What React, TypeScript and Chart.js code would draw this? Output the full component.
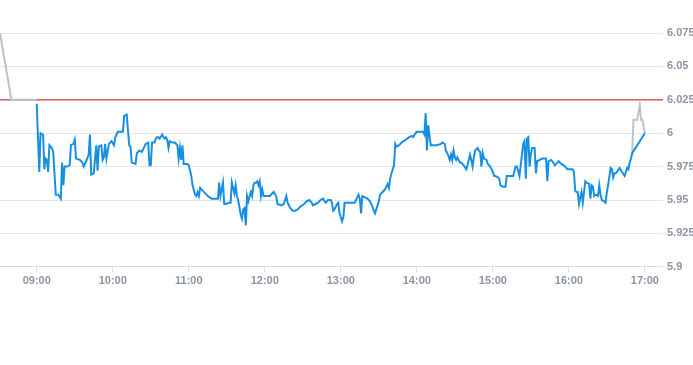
import React, { useEffect, useRef } from "react";
import { Chart, registerables } from "chart.js";

Chart.register(...registerables);

// Minutes since midnight for regular session (blue) line
const blueMinutes = [
  540, 542, 543, 545, 546, 547, 548, 549, 550, 552, 553, 555, 557, 559, 560, 561, 562, 564, 566, 567,
  569, 570, 571, 574, 576, 577, 579, 581, 582, 583, 585, 587, 588, 589, 591, 592, 593, 594, 595, 597,
  599, 601, 602, 604, 608, 609, 611, 613, 614, 615, 618, 619, 621, 623, 625, 626, 628, 629, 630, 631,
  633, 634, 635, 636, 637, 639, 640, 641, 642, 643, 644, 645, 647, 649, 651, 652, 653, 654, 655, 656,
  657, 659, 660, 662, 663, 665, 666, 667, 668, 669, 671, 673, 675, 678, 680, 683, 684, 685, 687, 688,
  689, 692, 693, 694, 696, 697, 698, 699, 701, 702, 703, 704, 705, 706, 707, 709, 710, 711, 712, 713,
  714, 715, 716, 717, 718, 719, 722, 724, 727, 729, 730, 733, 735, 737, 738, 740, 742, 744, 746, 748,
  751, 753, 755, 757, 758, 760, 762, 764, 766, 768, 770, 772, 773, 774, 775, 777, 778, 779, 781, 782,
  783, 786, 789, 791, 793, 794, 795, 796, 797, 799, 801, 803, 805, 806, 807, 808, 810, 811, 813, 815,
  816, 817, 818, 819, 820, 822, 823, 824, 826, 828, 831, 834, 836, 837, 839, 840, 842, 845, 846, 847,
  848, 849, 851, 854, 856, 859, 860, 862, 863, 865, 866, 867, 868, 869, 870, 871, 872, 874, 875, 877,
  879, 880, 881, 882, 883, 884, 885, 886, 888, 889, 890, 891, 892, 893, 895, 896, 898, 900, 901, 902,
  904, 905, 906, 908, 910, 911, 914, 916, 918, 919, 921, 922, 923, 924, 925, 926, 927, 928, 929, 930,
  931, 933, 934, 935, 937, 939, 942, 943, 944, 946, 947, 949, 950, 952, 953, 954, 956, 957, 959, 961,
  963, 964, 965, 966, 967, 968, 969, 970, 971, 972, 973, 974, 976, 977, 978, 979, 980, 981, 983, 984,
  985, 986, 988, 989, 990, 991, 993, 994, 995, 996, 997, 998, 1000, 1002, 1004, 1005, 1006, 1007, 1008, 1009,
  1010, 1020,
];

const blueValues = [
  6.022, 5.971, 6.0, 5.999, 5.973, 5.981, 5.98, 5.971, 5.991, 5.989, 5.986, 5.954, 5.954, 5.951, 5.978, 5.961, 5.975, 5.975, 5.976, 5.991,
  5.992, 5.995, 5.981, 5.98, 5.978, 5.975, 5.979, 5.984, 5.999, 5.969, 5.97, 5.991, 5.972, 5.99, 5.991, 5.98, 5.982, 5.992, 5.981, 5.992,
  5.994, 5.991, 5.997, 6.001, 6.001, 6.013, 6.014, 5.991, 5.99, 5.978, 5.977, 5.985, 5.987, 5.986, 5.99, 5.992, 5.993, 5.976, 5.976, 5.993,
  5.993, 5.996, 5.997, 5.997, 5.996, 5.999, 5.997, 5.996, 5.997, 5.995, 5.989, 5.994, 5.993, 5.993, 5.991, 5.981, 5.989, 5.98, 5.991, 5.977,
  5.977, 5.977, 5.976, 5.968, 5.961, 5.954, 5.953, 5.956, 5.953, 5.959, 5.957, 5.955, 5.953, 5.951, 5.951, 5.951, 5.963, 5.953, 5.963, 5.947,
  5.947, 5.948, 5.948, 5.963, 5.955, 5.961, 5.953, 5.95, 5.939, 5.936, 5.943, 5.944, 5.931, 5.953, 5.949, 5.956, 5.953, 5.961, 5.963, 5.963,
  5.964, 5.961, 5.964, 5.953, 5.958, 5.953, 5.953, 5.953, 5.956, 5.953, 5.947, 5.946, 5.947, 5.953, 5.948, 5.944, 5.942, 5.942, 5.943, 5.945,
  5.947, 5.949, 5.95, 5.948, 5.946, 5.947, 5.948, 5.95, 5.951, 5.948, 5.95, 5.95, 5.948, 5.942, 5.943, 5.947, 5.948, 5.94, 5.934, 5.937,
  5.948, 5.948, 5.948, 5.948, 5.952, 5.954, 5.951, 5.94, 5.953, 5.952, 5.951, 5.949, 5.945, 5.942, 5.94, 5.943, 5.949, 5.954, 5.956, 5.958,
  5.96, 5.962, 5.959, 5.966, 5.97, 5.976, 5.992, 5.99, 5.991, 5.993, 5.995, 5.997, 5.998, 5.997, 6.0, 6.001, 6.001, 6.001, 5.999, 6.015,
  5.987, 6.006, 5.991, 5.991, 5.991, 5.992, 5.993, 5.992, 5.987, 5.983, 5.98, 5.984, 5.98, 5.987, 5.982, 5.98, 5.982, 5.978, 5.978, 5.976,
  5.973, 5.976, 5.98, 5.984, 5.98, 5.975, 5.982, 5.987, 5.989, 5.987, 5.986, 5.975, 5.985, 5.981, 5.98, 5.977, 5.975, 5.971, 5.968, 5.968,
  5.967, 5.966, 5.961, 5.96, 5.96, 5.968, 5.968, 5.968, 5.975, 5.975, 5.968, 5.976, 5.984, 5.992, 5.994, 5.966, 5.996, 5.997, 5.975, 5.984,
  5.989, 5.989, 5.97, 5.979, 5.98, 5.981, 5.981, 5.964, 5.979, 5.98, 5.979, 5.976, 5.977, 5.979, 5.978, 5.977, 5.976, 5.975, 5.973, 5.973,
  5.973, 5.971, 5.957, 5.956, 5.956, 5.947, 5.952, 5.956, 5.948, 5.956, 5.964, 5.963, 5.962, 5.951, 5.961, 5.96, 5.953, 5.954, 5.953, 5.961,
  5.954, 5.95, 5.949, 5.948, 5.956, 5.961, 5.974, 5.973, 5.967, 5.97, 5.97, 5.971, 5.974, 5.971, 5.968, 5.971, 5.974, 5.973, 5.978, 5.981,
  5.985, 6.0,
];

// Extended-hours (grey) segments
const preMinutes = [511, 520, 540];
const preValues = [6.075, 6.025, 6.025];
const postMinutes = [1010, 1011, 1014, 1016, 1017, 1018, 1020];
const postValues = [5.985, 6.01, 6.01, 6.021, 6.01, 6.01, 6.0];

// Reference (previous close) level and axis ticks
const prevClose = 6.025;
const yMin = 5.9;
const yMax = 6.075;
const yStep = 0.025;
const xMin = 511;
const xMax = 1028;
const xStepMinutes = 60;

const toPoints = (xs: number[], ys: number[]) => xs.map((x, i) => ({ x, y: ys[i] }));
const fmtTime = (m: number) => {
  const h = Math.floor(m / 60);
  const mm = Math.round(m % 60);
  return `${String(h).padStart(2, "0")}:${String(mm).padStart(2, "0")}`;
};

const prevClosePlugin = {
  id: "prevCloseLine",
  beforeDatasetsDraw(chart: any) {
    const y = chart.scales.y;
    const area = chart.chartArea;
    const py = y.getPixelForValue(prevClose);
    const ctx = chart.ctx;
    ctx.save();
    ctx.strokeStyle = "#dd3b3b";
    ctx.lineWidth = 1.2;
    ctx.beginPath();
    ctx.moveTo(area.left, py);
    ctx.lineTo(area.right + 8, py);
    ctx.stroke();
    ctx.restore();
  },
};

export default function App() {
  const ref = useRef<HTMLCanvasElement | null>(null);
  useEffect(() => {
    if (!ref.current) return;
    const labelColor = "#8b95a3";
    const font = { family: "'Liberation Sans', Arial, sans-serif", size: 11, weight: "bold" };
    const chart = new Chart(ref.current, {
      type: "line",
      data: {
        datasets: [
          {
            data: toPoints(blueMinutes, blueValues),
            borderColor: "#1890e2",
            borderWidth: 2,
            pointRadius: 0,
            tension: 0,
            order: 0,
          },
          {
            data: toPoints(preMinutes, preValues),
            borderColor: "#b9c3cc",
            borderWidth: 2,
            pointRadius: 0,
            tension: 0,
            order: 1,
          },
          {
            data: toPoints(postMinutes, postValues),
            borderColor: "#b9c3cc",
            borderWidth: 2,
            pointRadius: 0,
            tension: 0,
            order: 1,
          },
        ],
      },
      options: {
        responsive: false,
        animation: false,
        layout: { padding: { top: 33, bottom: 74, left: 0, right: 0 } },
        plugins: { legend: { display: false }, tooltip: { enabled: false } },
        scales: {
          x: {
            type: "linear",
            min: xMin,
            max: xMax,
            grid: {
              drawOnChartArea: false,
              drawTicks: true,
              tickLength: 5,
              color: "#d5dae0",
            },
            border: { display: true, color: "#d5dae0" },
            ticks: {
              stepSize: xStepMinutes,
              includeBounds: false,
              color: labelColor,
              font,
              maxRotation: 0,
              padding: 3,
              callback: (v: any) => fmtTime(Number(v)),
            },
          },
          y: {
            position: "right",
            min: yMin,
            max: yMax,
            afterFit: (scale: any) => {
              scale.width = 38;
            },
            grid: {
              tickLength: 8,
              color: "#e3e6ea",
            },
            border: { display: false },
            ticks: {
              stepSize: yStep,
              color: labelColor,
              font,
              padding: 4,
              callback: (v: any) => String(+Number(v).toFixed(3)),
            },
          },
        },
      },
      plugins: [prevClosePlugin],
    } as any);
    return () => chart.destroy();
  }, []);
  return (
    <div style={{ position: "absolute", left: 0, top: 0, width: 693, height: 365, background: "#fff" }}>
      <canvas ref={ref} width={693} height={365} />
    </div>
  );
}
